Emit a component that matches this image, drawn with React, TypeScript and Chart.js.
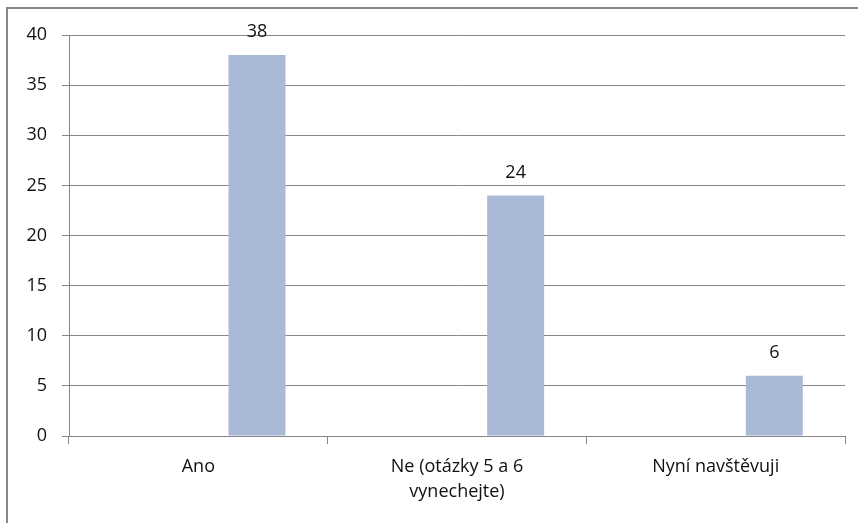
import React, { useEffect, useRef } from "react";
import { Chart, registerables } from "chart.js";

Chart.register(...registerables);

const categories: (string | string[])[] = [
  "Ano",
  ["Ne (otázky 5 a 6", "vynechejte)"],
  "Nyní navštěvuji",
];
// Empty first series keeps the answer bars in the right-hand slot of each group
const emptySeries: (number | null)[] = [null, null, null];
const answerCounts: number[] = [38, 24, 6];
const yTicksMax = 40;
const yTicksStep = 5;

const FONT = "'Open Sans', 'Noto Sans', sans-serif";
const GRID = "#878787";
const BAR = "#AAB9D8";

const valueLabels = {
  id: "valueLabels",
  afterDatasetsDraw(chart: any) {
    const ctx = chart.ctx;
    const meta = chart.getDatasetMeta(1);
    ctx.save();
    ctx.font = `18px ${FONT}`;
    ctx.fillStyle = "#111";
    ctx.textAlign = "center";
    ctx.textBaseline = "bottom";
    meta.data.forEach((bar: any, i: number) => {
      ctx.fillText(String(answerCounts[i]), bar.x, bar.y - 14);
    });
    ctx.restore();
  },
};

export default function App() {
  const ref = useRef<HTMLCanvasElement>(null);

  useEffect(() => {
    if (!ref.current) return;
    const chart = new Chart(ref.current, {
      type: "bar",
      data: {
        labels: categories,
        datasets: [
          {
            data: emptySeries,
            backgroundColor: BAR,
            barPercentage: 0.486,
            categoryPercentage: 0.907,
          },
          {
            data: answerCounts,
            backgroundColor: BAR,
            barPercentage: 0.486,
            categoryPercentage: 0.907,
          },
        ],
      },
      options: {
        responsive: false,
        animation: false,
        layout: { padding: { left: 0, right: 13, top: 35, bottom: 0 } },
        plugins: {
          legend: { display: false },
          tooltip: { enabled: false },
        },
        scales: {
          x: {
            afterFit(scale: any) {
              scale.height = 87;
            },
            grid: {
              display: true,
              drawOnChartArea: false,
              drawTicks: true,
              tickLength: 8,
              color: GRID,
              offset: true,
            },
            border: { display: true, color: GRID },
            ticks: {
              color: "#111",
              font: { family: FONT, size: 18, lineHeight: 1.4 },
              padding: 10,
              maxRotation: 0,
              autoSkip: false,
            },
          },
          y: {
            min: 0,
            max: yTicksMax,
            afterFit(scale: any) {
              scale.width = 69;
            },
            grid: {
              color: GRID,
              tickLength: 7,
            },
            border: { display: true, color: GRID },
            ticks: {
              stepSize: yTicksStep,
              color: "#111",
              font: { family: FONT, size: 18 },
              padding: 15,
            },
          },
        },
      },
      plugins: [valueLabels],
    });
    return () => chart.destroy();
  }, []);

  return (
    <div style={{ position: "fixed", inset: 0, overflow: "hidden", background: "#fff" }}>
      <div
        style={{
          position: "absolute",
          left: 6,
          top: 7,
          width: 1000,
          height: 1000,
          borderLeft: `2px solid ${GRID}`,
          borderTop: `2px solid ${GRID}`,
        }}
      />
      <canvas
        ref={ref}
        width={858}
        height={523}
        style={{ position: "absolute", left: 0, top: 0 }}
      />
    </div>
  );
}
